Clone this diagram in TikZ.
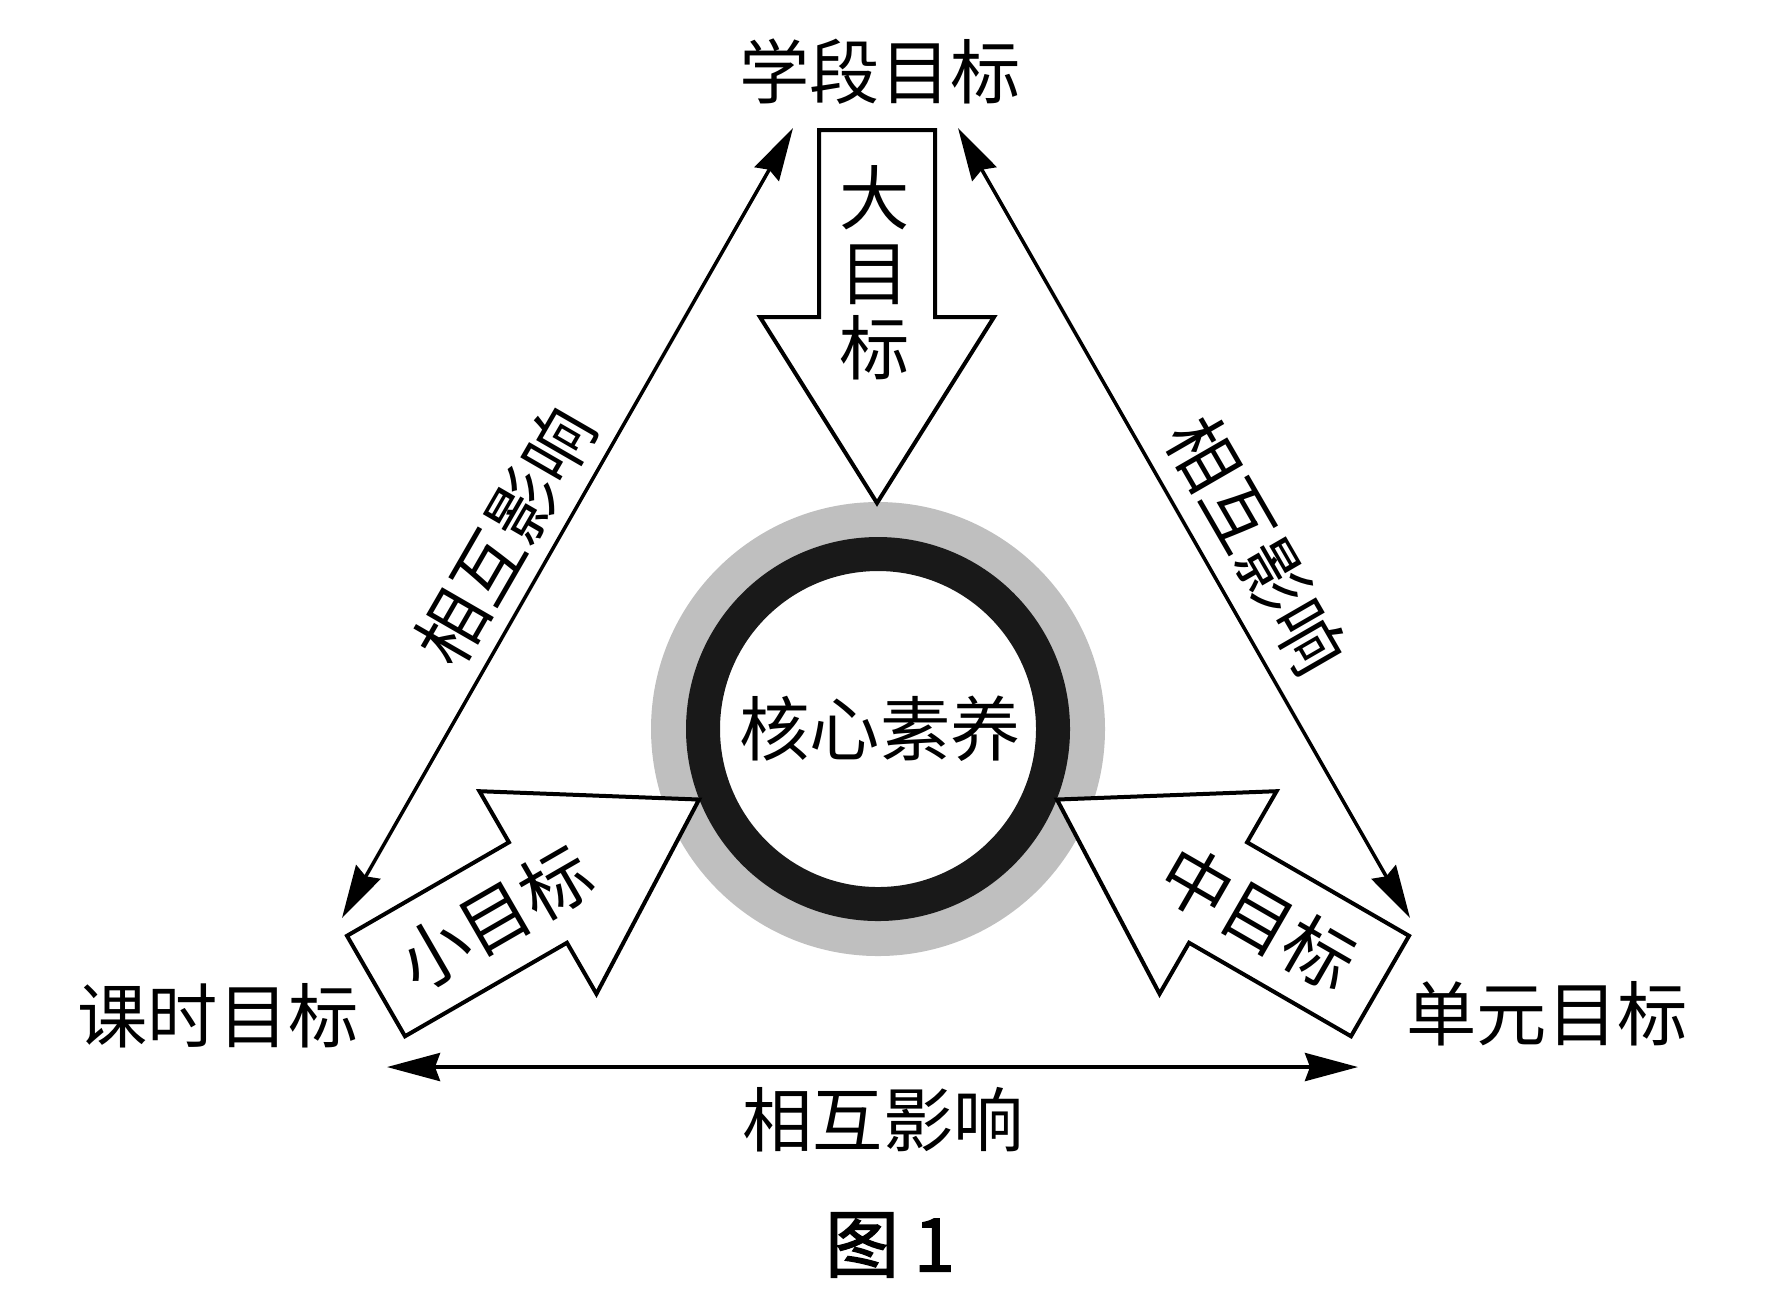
\documentclass[tikz,border=0pt]{standalone}
\usepackage{fontspec}
\newfontfamily\cjk{Noto Sans CJK SC}
\newfontfamily\cjkbold[FakeBold=2]{Noto Sans CJK SC}
\usetikzlibrary{arrows.meta}
\tikzset{
	lbl/.style={font=\cjk\fontsize{20pt}{21.3pt}\selectfont, inner sep=0pt},
	link/.style={<->, >={Stealth[length=0.53cm,width=0.28cm,inset=0.05cm]}, line width=0.035cm},
	blockarrow/.pic={\draw[line width=0.04cm, fill=white] (0,0.58) -- (1.87,0.58) -- (1.87,1.17) -- (3.73,0) -- (1.87,-1.17) -- (1.87,-0.58) -- (0,-0.58) -- cycle;}
}
\begin{document}
\begin{tikzpicture}
	\useasboundingbox (0,0) rectangle (17.68,-13.12);
	
	% core
	\fill[black!25] (8.78,-7.29) circle (2.27);
	\draw[line width=0.34cm, black!90, fill=white] (8.78,-7.29) circle (1.75);
	\node[lbl] (core) at (8.80,-7.29) {核心素养};
	
	% three goals
	\pic[rotate=-90] at (8.77,-1.30) {blockarrow};
	\pic[rotate=30] at (3.76,-9.86) {blockarrow};
	\pic[rotate=150] at (13.80,-9.86) {blockarrow};
	\node[lbl, align=center] (big) at (8.75,-2.73) {大\\目\\标};
	\node[lbl, rotate=30] (small) at (4.95,-9.18) {小目标};
	\node[lbl, rotate=-30] (mid) at (12.58,-9.18) {中目标};
	
	% corners
	\node[lbl] (stage) at (8.80,-0.72) {学段目标};
	\node[lbl] (lesson) at (2.18,-10.16) {课时目标};
	\node[lbl] (unit) at (15.47,-10.14) {单元目标};
	
	\coordinate (lt) at (7.93,-1.28);
	\coordinate (lb) at (3.42,-9.18);
	\coordinate (rt) at (9.58,-1.28);
	\coordinate (rb) at (14.10,-9.18);
	\coordinate (bl) at (3.87,-10.67);
	\coordinate (br) at (13.58,-10.67);
	\draw[link] (lb) -- (lt);
	\draw[link] (rt) -- (rb);
	\draw[link, line width=0.04cm] (bl) -- (br);
	\node[lbl, rotate=60] (infl) at (5.05,-5.36) {相互影响};
	\node[lbl, rotate=-60] (infr) at (12.57,-5.45) {相互影响};
	\node[lbl] (infb) at (8.83,-11.20) {相互影响};
	
	\node[font=\cjkbold\fontsize{21pt}{24pt}\selectfont, inner sep=0pt] (fig) at (8.90,-12.45) {图\hspace{0.15cm}1};
\end{tikzpicture}
\end{document}
